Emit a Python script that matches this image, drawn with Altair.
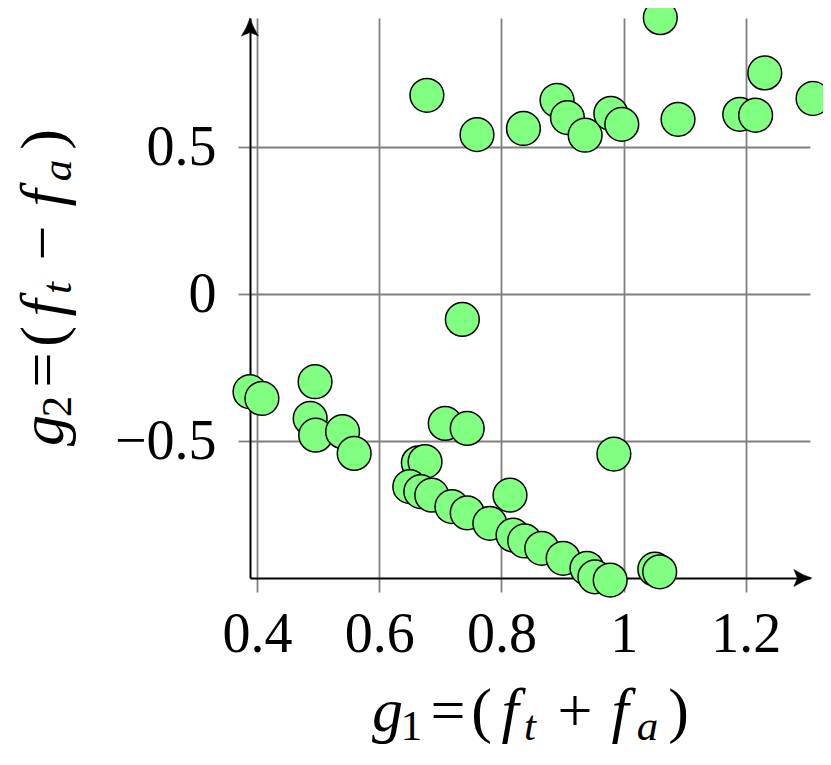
import altair as alt
import pandas as pd

# Data
g1 = [0.678, 0.760, 0.836, 0.891, 0.908, 0.937, 0.979, 0.997, 1.060, 1.089,
      1.190, 1.216, 1.231, 1.310,
      0.736, 0.984,
      0.3885, 0.408, 0.495, 0.487, 0.496, 0.540, 0.559, 0.708, 0.744,
      0.664, 0.675, 0.650, 0.668, 0.686, 0.719, 0.744, 0.781, 0.814, 0.819,
      0.838, 0.866, 0.901, 0.940, 0.953, 0.978, 1.051, 1.059]
g2 = [0.677, 0.543, 0.564, 0.660, 0.601, 0.541, 0.615, 0.578, 0.941, 0.595,
      0.612, 0.609, 0.753, 0.666,
      -0.086, -0.544,
      -0.332, -0.355, -0.298, -0.423, -0.480, -0.468, -0.542, -0.440, -0.457,
      -0.574, -0.570, -0.655, -0.672, -0.684, -0.723, -0.744, -0.780, -0.684, -0.820,
      -0.840, -0.865, -0.899, -0.933, -0.962, -0.973, -0.936, -0.945]

x_ticks = [0.4, 0.6, 0.8, 1.0, 1.2]
y_ticks = [-0.5, 0.0, 0.5]
x_domain = [0.3885, 1.305]
y_domain = [-0.966, 0.94]

# axis titles, written as math: (glyph, italic, subscript)
x_title = [("g", True, False), ("1", False, True), ("=", False, False), ("(", False, False),
           ("f", True, False), ("t", True, True), ("+", False, False), ("f", True, False),
           ("a", True, True), (")", False, False)]
y_title = [("g", True, False), ("2", False, True), ("=", False, False), ("(", False, False),
           ("f", True, False), ("t", True, True), ("−", False, False), ("f", True, False),
           ("a", True, True), (")", False, False)]
# glyph centres along the title (px from its start)
glyph_offsets = [14.5, 38.5, 75, 108.5, 137, 157, 202, 247, 274.5, 305.5]

FONT = "Liberation Serif"
W, H = 560, 560
LEFT, TOP = 250, 18  # page position of the plot origin

df = pd.DataFrame({"g1": g1, "g2": g2})

xscale = alt.Scale(domain=x_domain, nice=False, zero=False)
yscale = alt.Scale(domain=y_domain, nice=False, zero=False)

common_axis = dict(
    grid=True, gridColor="#808080", gridWidth=1.8, gridOpacity=1,
    domainColor="black", domainWidth=2,
    tickColor="#808080", tickWidth=1.8,
    labelFont=FONT, labelFontSize=56, labelColor="black", labelFlush=False,
    title="",
)
xaxis = alt.Axis(
    values=x_ticks,
    labelExpr="datum.value == 1 ? '1' : format(datum.value, '.1f')",
    tickSize=14, labelBaseline="alphabetic", labelPadding=59,
    **common_axis,
)
yaxis = alt.Axis(
    values=y_ticks,
    labelExpr="datum.value == 0 ? '0' : replace(format(datum.value, '.1f'), '-', '−')",
    tickSize=12, labelPadding=22,
    **common_axis,
)

points = alt.Chart(df).mark_point(
    shape="circle", filled=True, fill="#80ff80", stroke="black",
    strokeWidth=1.5, size=1140, opacity=1
).encode(
    x=alt.X("g1:Q", scale=xscale, axis=xaxis),
    y=alt.Y("g2:Q", scale=yscale, axis=yaxis),
)

arrow_x = alt.Chart(pd.DataFrame({"g1": [1.308], "g2": [y_domain[0]]})).mark_point(
    shape="M0,0 Q-1,-0.3 -2,-0.95 L-1.6,0 L-2,0.95 Q-1,0.3 0,0 Z",
    filled=True, fill="black", stroke="black", strokeWidth=0.5, size=324, opacity=1
).encode(x=alt.X("g1:Q", scale=xscale), y=alt.Y("g2:Q", scale=yscale))

arrow_y = alt.Chart(pd.DataFrame({"g1": [x_domain[0]], "g2": [y_domain[1]]})).mark_point(
    shape="M0,0 Q-0.3,1 -0.95,2 L0,1.6 L0.95,2 Q0.3,1 0,0 Z",
    filled=True, fill="black", stroke="black", strokeWidth=0.5, size=324, opacity=1
).encode(x=alt.X("g1:Q", scale=xscale), y=alt.Y("g2:Q", scale=yscale))


def glyph_layers(glyphs, start, base, sub_shift, vertical):
    layers = []
    for (txt, italic, sub), off in zip(glyphs, glyph_offsets):
        size = 43 if sub else 62
        if vertical:
            px = base + (sub_shift if sub else 0)
            py = start - off
            angle = 270
        else:
            px = start + off
            py = base + (sub_shift if sub else 0)
            angle = 0
        layers.append(
            alt.Chart(pd.DataFrame({"t": [txt]})).mark_text(
                font=FONT, fontSize=size, fontStyle="italic" if italic else "normal",
                align="center", baseline="alphabetic", angle=angle, color="black",
            ).encode(text="t:N", x=alt.value(px - LEFT), y=alt.value(py - TOP))
        )
    return layers


xt = glyph_layers(x_title, 373, 731, 9, vertical=False)
yt = glyph_layers(y_title, 445, 63, 8, vertical=True)

chart = alt.layer(points, arrow_x, arrow_y, *xt, *yt).properties(
    width=W, height=H,
    padding={"left": 242, "top": 10, "right": 13, "bottom": 179},
    autosize=alt.AutoSizeParams(type="none"),
).configure_view(stroke=None)

chart.save("out.html", embed_options={"renderer": "svg", "actions": False})
